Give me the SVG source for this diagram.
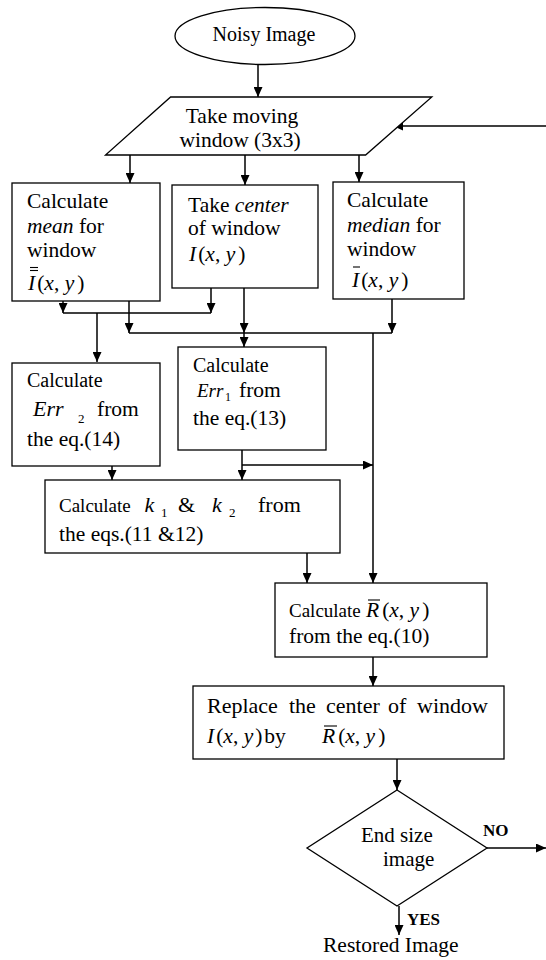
<svg xmlns="http://www.w3.org/2000/svg" width="546" height="960" viewBox="0 0 546 960" font-family="'Liberation Serif', 'Times New Roman', Times, serif">
<style>
text{font-family:'Liberation Serif','Times New Roman',Times,serif;fill:#000;font-size:21.5px}
.i{font-style:italic}
.s20{font-size:20px}
.s19{font-size:19px}
.sub{font-size:13px;font-style:normal}
.b{font-weight:bold;font-size:17px}
.shape{fill:#fff;stroke:#000;stroke-width:1.3}
.c{fill:none;stroke:#000;stroke-width:1.5}
.bar{stroke:#000;stroke-width:1.1}
</style>
<defs>
<marker id="ah" markerUnits="userSpaceOnUse" markerWidth="10" markerHeight="9" refX="10" refY="4.5" orient="auto"><path d="M0,0 L10,4.5 L0,9 z" fill="#000"/></marker>
</defs>
<rect width="546" height="960" fill="#fff"/>

<g id="connectors">
<line class="c" x1="258" y1="64" x2="258" y2="97" marker-end="url(#ah)"/>
<line class="c" x1="130" y1="155" x2="130" y2="183" marker-end="url(#ah)"/>
<line class="c" x1="245" y1="155" x2="245" y2="185" marker-end="url(#ah)"/>
<line class="c" x1="359" y1="155" x2="359" y2="182" marker-end="url(#ah)"/>
<line class="c" x1="546" y1="126" x2="393" y2="126" marker-end="url(#ah)"/>
<line class="c" x1="63" y1="301" x2="63" y2="313" marker-end="url(#ah)"/>
<line class="c" x1="211" y1="288" x2="211" y2="313" marker-end="url(#ah)"/>
<line class="c" x1="63" y1="313" x2="211" y2="313"/>
<line class="c" x1="97" y1="313" x2="97" y2="362" marker-end="url(#ah)"/>
<line class="c" x1="129" y1="301" x2="129" y2="333" marker-end="url(#ah)"/>
<line class="c" x1="244" y1="288" x2="244" y2="333" marker-end="url(#ah)"/>
<line class="c" x1="392" y1="299" x2="392" y2="333" marker-end="url(#ah)"/>
<line class="c" x1="129" y1="333" x2="392" y2="333"/>
<line class="c" x1="244" y1="333" x2="244" y2="347" marker-end="url(#ah)"/>
<line class="c" x1="373" y1="333" x2="373" y2="583" marker-end="url(#ah)"/>
<line class="c" x1="112" y1="466" x2="112" y2="480" marker-end="url(#ah)"/>
<line class="c" x1="242" y1="450" x2="242" y2="480" marker-end="url(#ah)"/>
<line class="c" x1="242" y1="465" x2="373" y2="465" marker-end="url(#ah)"/>
<line class="c" x1="307" y1="553" x2="307" y2="583" marker-end="url(#ah)"/>
<line class="c" x1="373" y1="657" x2="373" y2="686" marker-end="url(#ah)"/>
<line class="c" x1="397" y1="759" x2="397" y2="790" marker-end="url(#ah)"/>
<line class="c" x1="487" y1="848" x2="546" y2="848" marker-end="url(#ah)"/>
<line class="c" x1="399" y1="906" x2="399" y2="935" marker-end="url(#ah)"/>
</g>

<g id="noisy">
<ellipse class="shape" cx="265" cy="36" rx="90" ry="28.5"/>
<text x="264" y="41" text-anchor="middle" style="font-size:20px">Noisy Image</text>
</g>

<g id="window">
<polygon class="shape" points="170.6,97 431.8,97 365.6,155 105.5,155"/>
<text x="242" y="123" text-anchor="middle">Take moving</text>
<text x="240" y="147" text-anchor="middle">window (3x3)</text>
</g>

<g id="mean">
<rect class="shape" x="12" y="183" width="148" height="118"/>
<text x="27" y="208">Calculate</text>
<text x="27" y="233"><tspan class="i">mean</tspan> for</text>
<text x="27" y="257">window</text>
<text x="28" y="290"><tspan class="i">I</tspan><tspan dx="2">(</tspan><tspan class="i">x</tspan>, <tspan class="i">y</tspan><tspan dx="3">)</tspan></text>
<line class="bar" x1="30" y1="267.5" x2="38" y2="267.5"/>
<line class="bar" x1="30" y1="270.5" x2="38" y2="270.5"/>
</g>

<g id="center">
<rect class="shape" x="172" y="185" width="146" height="103"/>
<text x="188" y="212">Take <tspan class="i">center</tspan></text>
<text x="188" y="235">of window</text>
<text x="189" y="261"><tspan class="i">I</tspan><tspan dx="2">(</tspan><tspan class="i">x</tspan>, <tspan class="i">y</tspan><tspan dx="3">)</tspan></text>
</g>

<g id="median">
<rect class="shape" x="333" y="182" width="131" height="117"/>
<text x="347" y="207">Calculate</text>
<text x="347" y="232"><tspan class="i">median</tspan> for</text>
<text x="347" y="256">window</text>
<text x="352" y="287"><tspan class="i">I</tspan><tspan dx="2">(</tspan><tspan class="i">x</tspan>, <tspan class="i">y</tspan><tspan dx="3">)</tspan></text>
<line class="bar" x1="353" y1="267" x2="360" y2="267"/>
</g>

<g id="err2">
<rect class="shape" x="12" y="363" width="148" height="103"/>
<text x="27" y="387" class="s20">Calculate</text>
<text x="33" y="416" class="i" style="font-size:22px">Err</text>
<text x="78" y="423" class="sub">2</text>
<text x="97" y="416">from</text>
<text x="27" y="446">the eq.(14)</text>
</g>

<g id="err1">
<rect class="shape" x="178" y="347" width="148" height="103"/>
<text x="193" y="372" class="s20">Calculate</text>
<text x="197" y="397" class="i" style="font-size:19px">Err</text>
<text x="225" y="401" class="sub" style="font-size:12px">1</text>
<text x="239" y="397">from</text>
<text x="193" y="425">the eq.(13)</text>
</g>

<g id="k12">
<rect class="shape" x="45" y="480" width="295" height="73"/>
<text x="59" y="512" class="s19">Calculate</text>
<text x="144.5" y="512" class="i" style="font-size:22px">k</text>
<text x="161" y="517" class="sub">1</text>
<text x="178" y="512" style="font-size:22px">&amp;</text>
<text x="212" y="512" class="i" style="font-size:22px">k</text>
<text x="229" y="517" class="sub">2</text>
<text x="258" y="512" style="font-size:22px">from</text>
<text x="59" y="541">the eqs.(11 &amp;12)</text>
</g>

<g id="rcalc">
<rect class="shape" x="275" y="583" width="212" height="74"/>
<text x="289" y="617"><tspan class="s19">Calculate</tspan><tspan class="i" x="366">R</tspan><tspan dx="3">(</tspan><tspan class="i">x</tspan>, <tspan class="i">y</tspan><tspan dx="3">)</tspan></text>
<line class="bar" x1="368" y1="600" x2="380" y2="600"/>
<text x="289" y="643">from the eq.(10)</text>
</g>

<g id="replace">
<rect class="shape" x="193" y="686" width="311" height="73"/>
<text y="713" style="font-size:22px"><tspan x="207">Replace</tspan><tspan x="289">the</tspan><tspan x="326">center</tspan><tspan x="388">of</tspan><tspan x="417">window</tspan></text>
<text x="207" y="743"><tspan class="i">I</tspan><tspan dx="2">(</tspan><tspan class="i">x</tspan>, <tspan class="i">y</tspan><tspan dx="2">)</tspan><tspan dx="2">by</tspan><tspan class="i" x="322">R</tspan><tspan dx="3">(</tspan><tspan class="i">x</tspan>, <tspan class="i">y</tspan><tspan dx="3">)</tspan></text>
<line class="bar" x1="324" y1="726" x2="337" y2="726"/>
</g>

<g id="decision">
<polygon class="shape" points="397,790 487,848 397,906 307,848"/>
<text x="361" y="842" style="font-size:21px">End size</text>
<text x="383" y="866" style="font-size:21px">image</text>
<text x="483" y="836" class="b">NO</text>
<text x="407" y="925" class="b">YES</text>
</g>

<g id="restored">
<text x="323" y="952">Restored Image</text>
</g>
</svg>
